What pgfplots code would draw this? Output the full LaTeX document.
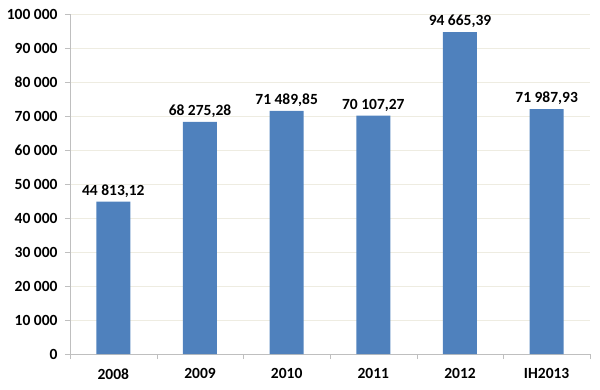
\documentclass[border=0pt]{standalone}
\usepackage{pgfplots}
\pgfplotsset{compat=1.18}
\usepackage{fontspec}
\setmainfont{Carlito}
\definecolor{barblue}{HTML}{4F81BD}
\definecolor{gridc}{HTML}{EEECE1}
\definecolor{axc}{HTML}{BFBFBF}
\begin{document}
\begin{tikzpicture}
\begin{axis}[
  scale only axis,
  width=520pt, height=340pt,
  xmin=-0.5, xmax=5.5,
  ymin=0, ymax=100000,
  axis lines=left,
  axis line style={-, draw=axc},
  tick style={draw=axc},
  tick align=outside,
  major tick length=5pt,
  minor tick length=5pt,
  xtick={0,1,2,3,4,5},
  xticklabels={2008,2009,2010,2011,2012,IH2013},
  major x tick style={draw=none},
  minor xtick={-0.5,0.5,1.5,2.5,3.5,4.5,5.5},
  ytick={0,10000,...,100000},
  scaled y ticks=false,
  ymajorgrids,
  grid style={draw=gridc, line width=0.8pt},
  /pgf/number format/assume math mode=true,
  /pgf/number format/fixed,
  /pgf/number format/1000 sep={\ },
  ticklabel style={font=\fontsize{15.5}{18}\selectfont\bfseries},
  yticklabel style={xshift=-4pt},
  xticklabel style={yshift=-6pt},
  nodes near coords,
  point meta=explicit symbolic,
  nodes near coords style={font=\fontsize{15.5}{18}\selectfont\bfseries, anchor=south, yshift=1pt},
  clip=false,
]
\addplot[ybar, bar width=34pt, fill=barblue, draw=none] coordinates {
  (0,44813.12) [44 813,12]
  (1,68275.28) [68 275,28]
  (2,71489.85) [71 489,85]
  (3,70107.27) [70 107,27]
  (4,94665.39) [94 665,39]
  (5,71987.93) [71 987,93]
};
\end{axis}
\pgfresetboundingbox
\path (current axis.south west) ++(-70pt,-35pt) rectangle ++(600pt,389pt);
\end{tikzpicture}
\end{document}
